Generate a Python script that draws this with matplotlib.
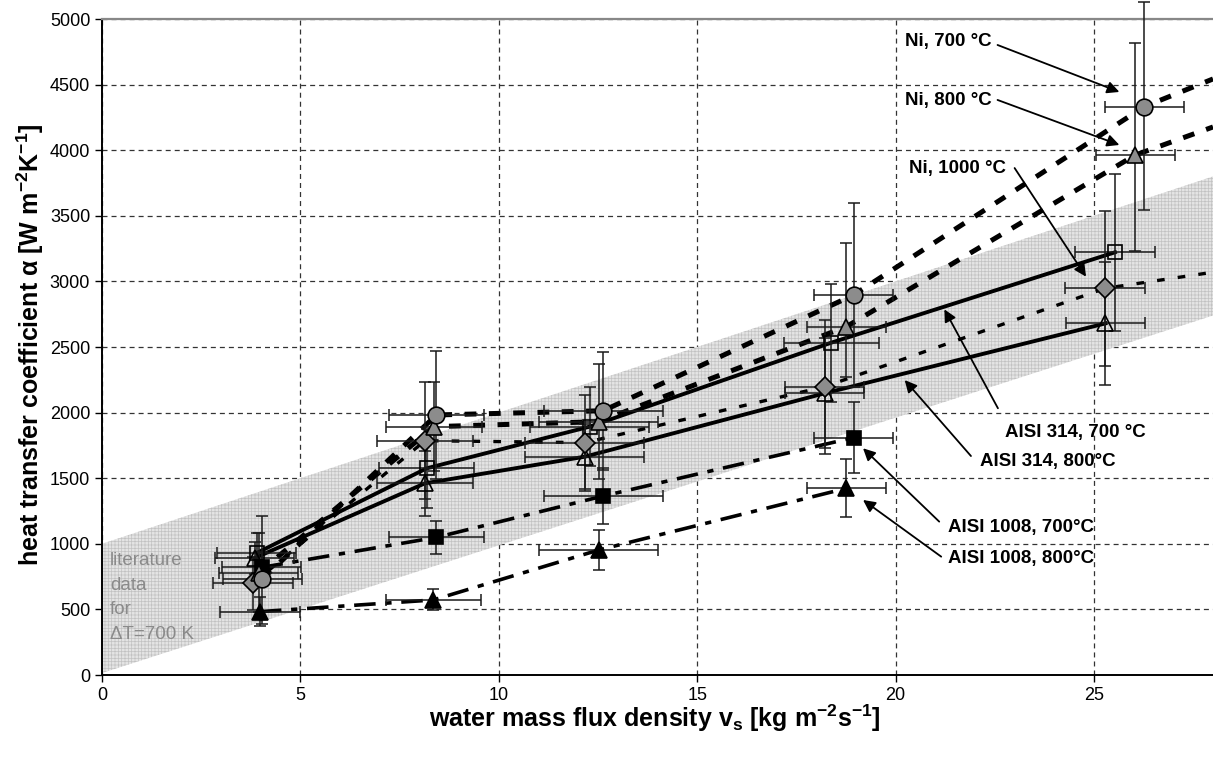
import matplotlib
matplotlib.use("Agg")
import matplotlib.pyplot as plt
import numpy as np

plt.rcParams['font.family'] = ['Liberation Sans', 'DejaVu Sans']
plt.rcParams['mathtext.fontset'] = 'custom'
plt.rcParams['mathtext.bf'] = 'Liberation Sans:bold'
plt.rcParams['mathtext.rm'] = 'Liberation Sans:bold'
plt.rcParams['mathtext.default'] = 'bf'
plt.rcParams['lines.scale_dashes'] = False
plt.rcParams['hatch.linewidth'] = 0.5
plt.rcParams['axes.unicode_minus'] = False

# ---- data ----
# Ni, 700 C  (grey circles)
ni700_x = [4.04, 8.43, 12.63, 18.94, 26.27]
ni700_y = [732, 1982, 2014, 2896, 4332]
ni700_xerr = [1.0, 1.2, 1.5, 1.0, 1.0]
ni700_ylo = [340, 490, 450, 700, 790]
ni700_yhi = [480, 490, 450, 700, 800]
ni700_end = (28, 4543)

# Ni, 800 C  (grey triangles)
ni800_x = [3.95, 8.37, 12.52, 18.76, 26.04]
ni800_y = [780, 1893, 1931, 2655, 3963]
ni800_xerr = [1.0, 1.2, 1.5, 1.0, 1.0]
ni800_ylo = [300, 340, 440, 380, 730]
ni800_yhi = [300, 340, 440, 635, 857]
ni800_end = (28, 4177)

# Ni, 1000 C  (grey diamonds)
ni1000_x = [3.81, 8.14, 12.17, 18.21, 25.28]
ni1000_y = [699, 1786, 1771, 2197, 2947]
ni1000_xerr = [1.0, 1.2, 1.5, 1.0, 1.0]
ni1000_ylo = [200, 445, 366, 510, 590]
ni1000_yhi = [200, 445, 366, 510, 590]
ni1000_end = (28, 3070)

# AISI 314, 700 C  (open squares)
a314_700_x = [3.9, 8.18, 12.29, 18.38, 25.53]
a314_700_y = [930, 1575, 1893, 2533, 3222]
a314_700_xerr = [1.0, 1.2, 1.5, 1.2, 1.0]
a314_700_yerr = [150, 300, 300, 450, 600]

# AISI 314, 800 C  (open triangles)
a314_800_x = [3.85, 8.14, 12.17, 18.21, 25.29]
a314_800_y = [892, 1461, 1664, 2147, 2680]
a314_800_xerr = [1.0, 1.2, 1.5, 1.0, 1.0]
a314_800_yerr = [120, 250, 250, 420, 470]

# AISI 1008, 700 C  (black squares)
a1008_700_x = [4.02, 8.43, 12.63, 18.94]
a1008_700_y = [820, 1049, 1364, 1809]
a1008_700_xerr = [1.0, 1.2, 1.5, 1.0]
a1008_700_yerr = [120, 125, 210, 270]

# AISI 1008, 800 C  (black triangles)
a1008_800_x = [3.98, 8.35, 12.52, 18.76]
a1008_800_y = [483, 572, 953, 1423]
a1008_800_xerr = [1.0, 1.2, 1.5, 1.0]
a1008_800_yerr = [110, 80, 150, 220]

# literature band for dT = 700 K
band_x = [0, 28]
band_lo = [15, 2740]
band_hi = [1000, 3800]

# annotation labels: text position, arrow tail, arrow head
labels = ["Ni, 700 °C", "Ni, 800 °C", "Ni, 1000 °C", "AISI 314, 700 °C",
          "AISI 314, 800°C", "AISI 1008, 700°C", "AISI 1008, 800°C"]
label_pos = [(20.23, 4825), (20.23, 4375), (20.35, 3864), (22.75, 1847),
             (22.12, 1626), (21.32, 1126), (21.32, 889)]
arrow_tail = [(22.57, 4802), (22.57, 4383), (23.0, 3864), (22.58, 2033),
              (21.9, 1669), (21.1, 1169), (21.15, 902)]
arrow_head = [(25.64, 4444), (25.64, 4040), (24.8, 3036), (21.23, 2787),
              (20.23, 2248), (19.18, 1728), (19.18, 1334)]

fig = plt.figure(figsize=(12.13, 7.58), dpi=100)
ax = fig.add_axes([102/1213, 83/758, 1111/1213, 656/758])

ax.fill_between(band_x, band_lo, band_hi, facecolor='#e4e4e4',
                edgecolor='#c2c2c2', hatch='+++++', linewidth=0, zorder=1)

ax.text(0.2, 935, "literature\ndata\nfor\n\u0394T=700 K", color='#8a8a8a',
        fontsize=13.5, va='top', ha='left', linespacing=1.58, zorder=2)

# connecting lines
ax.plot(ni700_x + [ni700_end[0]], ni700_y + [ni700_end[1]], color='k',
        lw=3.6, dashes=(8.5, 9), zorder=4)
ax.plot(ni800_x + [ni800_end[0]], ni800_y + [ni800_end[1]], color='k',
        lw=3.6, dashes=(8.5, 9), zorder=4)
ax.plot(ni1000_x + [ni1000_end[0]], ni1000_y + [ni1000_end[1]], color='k',
        lw=2.4, dashes=(5.5, 9.5), zorder=4)
ax.plot(a314_700_x, a314_700_y, color='k', lw=2.8, zorder=4)
ax.plot(a314_800_x, a314_800_y, color='k', lw=2.8, zorder=4)
ax.plot(a1008_700_x, a1008_700_y, color='k', lw=2.6,
        dashes=(15.5, 7, 4.5, 7), zorder=4)
ax.plot(a1008_800_x, a1008_800_y, color='k', lw=2.6,
        dashes=(15.5, 7, 4.5, 7), zorder=4)

ekw = dict(ecolor='#1a1a1a', elinewidth=1.1, capsize=4.5, capthick=1.1,
           linestyle='none', zorder=5)
mkw = dict(markeredgecolor='k', markeredgewidth=1.2, linestyle='none', zorder=6)

eb = ax.errorbar(ni700_x, ni700_y, xerr=ni700_xerr, yerr=[ni700_ylo, ni700_yhi], **ekw)
for part in eb.lines[1] + eb.lines[2]:
    part.set_clip_on(False)
for part in eb.lines[2]:
    pass
ax.errorbar(ni800_x, ni800_y, xerr=ni800_xerr, yerr=[ni800_ylo, ni800_yhi], **ekw)
ax.errorbar(ni1000_x, ni1000_y, xerr=ni1000_xerr, yerr=[ni1000_ylo, ni1000_yhi], **ekw)
ax.errorbar(a314_700_x, a314_700_y, xerr=a314_700_xerr, yerr=a314_700_yerr, **ekw)
ax.errorbar(a314_800_x, a314_800_y, xerr=a314_800_xerr, yerr=a314_800_yerr, **ekw)
ax.errorbar(a1008_700_x, a1008_700_y, xerr=a1008_700_xerr, yerr=a1008_700_yerr, **ekw)
ax.errorbar(a1008_800_x, a1008_800_y, xerr=a1008_800_xerr, yerr=a1008_800_yerr, **ekw)

ax.plot(a314_700_x, a314_700_y, marker='s', ms=10, markerfacecolor='none', **mkw)
ax.plot(a314_800_x, a314_800_y, marker='^', ms=11, markerfacecolor='none', **mkw)
ax.plot(a1008_700_x, a1008_700_y, marker='s', ms=10, markerfacecolor='k', **mkw)
ax.plot(a1008_800_x, a1008_800_y, marker='^', ms=11, markerfacecolor='k', **mkw)
ax.plot(ni1000_x, ni1000_y, marker='D', ms=10, markerfacecolor='#8c8c8c', **mkw)
ax.plot(ni800_x, ni800_y, marker='^', ms=11, markerfacecolor='#8c8c8c', **mkw)
ax.plot(ni700_x, ni700_y, marker='o', ms=12, markerfacecolor='#8c8c8c', **mkw)

for txt, pos, tail, head in zip(labels, label_pos, arrow_tail, arrow_head):
    ax.text(pos[0], pos[1], txt, fontsize=13.5, fontweight='bold',
            ha='left', va='center', zorder=8)
    ax.annotate('', xy=head, xytext=tail, zorder=8,
                arrowprops=dict(arrowstyle='-|>', color='k', lw=1.3,
                                mutation_scale=18, shrinkA=0, shrinkB=0))

ax.set_xlim(0, 28)
ax.set_ylim(0, 5000)
ax.set_xticks(np.arange(0, 30, 5))
ax.set_yticks(np.arange(0, 5500, 500))
ax.tick_params(labelsize=13, length=5, width=1, direction='out')
ax.grid(True, color='#333333', linewidth=0.9, dashes=(3.6, 2.9))
ax.set_axisbelow(True)
ax.spines['right'].set_visible(False)
ax.spines['top'].set_color('#888888')
ax.spines['top'].set_linewidth(1.6)
ax.spines['left'].set_linewidth(1.4)
ax.spines['bottom'].set_linewidth(1.4)

fig.text(30/1213, 1 - 345/758, "heat transfer coefficient \u03b1 [W m$^{-2}$K$^{-1}$]",
         rotation=90, ha='center', va='center', fontsize=18, fontweight='bold')
fig.text(655/1213, 1 - 718/758, "water mass flux density v$_s$ [kg m$^{-2}$s$^{-1}$]",
         ha='center', va='center', fontsize=18, fontweight='bold')

fig.savefig("out.png", dpi=100)
